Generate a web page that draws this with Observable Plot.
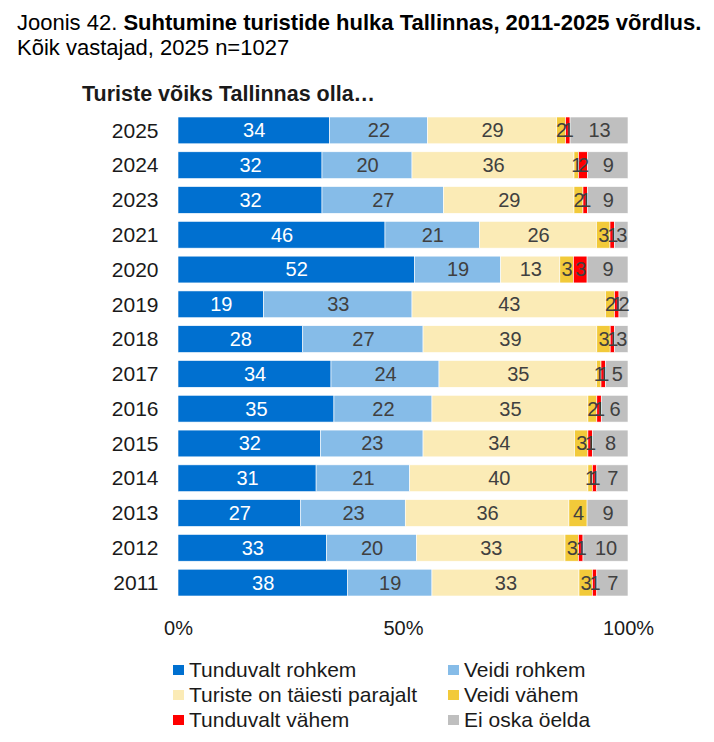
<!DOCTYPE html>
<html>
<head>
<meta charset="utf-8">
<script src="https://cdn.jsdelivr.net/npm/d3@7"></script>
<script src="https://cdn.jsdelivr.net/npm/@observablehq/plot@0.6"></script>
<style>
  body { margin: 0; background: #fff; font-family: "Liberation Sans", Arial, sans-serif; color: #000; }
  #wrap { position: relative; width: 714px; height: 742px; }
  .abs { position: absolute; white-space: nowrap; }
  #title { left: 17px; top: 9.5px; font-size: 22px; line-height: 25px; }
  #header { left: 82px; top: 82px; font-size: 21.5px; font-weight: bold; color: #1a1a1a; }
  #chart { left: 0; top: 0; }
  .leg { font-size: 21px; line-height: 25px; color: #1a1a1a; display: flex; align-items: center; }
  .sw { width: 11px; height: 10px; margin-right: 5px; display: inline-block; }
</style>
</head>
<body>
<div id="wrap">
  <div id="chart" class="abs"></div>
  <div id="title" class="abs">Joonis 42. <b>Suhtumine turistide hulka Tallinnas, 2011-2025 võrdlus.</b><br>Kõik vastajad, 2025 n=1027</div>
  <div id="header" class="abs">Turiste võiks Tallinnas olla…</div>
  <div id="legend"></div>
</div>
<script>
const years = ["2025","2024","2023","2021","2020","2019","2018","2017","2016","2015","2014","2013","2012","2011"];
const categories = ["Tunduvalt rohkem","Veidi rohkem","Turiste on täiesti parajalt","Veidi vähem","Tunduvalt vähem","Ei oska öelda"];
const colors = ["#0070D0","#86BCE8","#FBEBB6","#F2CA3A","#FF0000","#BFBFBF"];
const tunduvaltRohkem = [34,32,32,46,52,19,28,34,35,32,31,27,33,38];
const veidiRohkem     = [22,20,27,21,19,33,27,24,22,23,21,23,20,19];
const parajalt        = [29,36,29,26,13,43,39,35,35,34,40,36,33,33];
const veidiVahem      = [2,1,2,3,3,2,3,1,2,3,1,4,3,3];
const tunduvaltVahem  = [1,2,1,1,3,1,1,1,1,1,1,0,1,1];
const eiOska          = [13,9,9,3,9,2,3,5,6,8,7,9,10,7];
const xTicks = [0, 0.5, 1];

const series = [tunduvaltRohkem, veidiRohkem, parajalt, veidiVahem, tunduvaltVahem, eiOska];
const data = [];
years.forEach((y, i) => series.forEach((s, j) => data.push({year: y, cat: categories[j], value: s[i]})));

const stackOpts = {x: "value", y: "year", z: "cat", offset: "normalize", order: categories};

const chart = Plot.plot({
  width: 714,
  height: 650,
  marginLeft: 178,
  marginRight: 86,
  marginTop: 109,
  marginBottom: 46,
  style: {fontFamily: "Liberation Sans, Arial, sans-serif", fontSize: "20px", color: "#1a1a1a", background: "transparent"},
  x: {domain: [0, 1], ticks: xTicks, tickFormat: d => Math.round(d * 100) + "%", label: null, tickSize: 0, tickPadding: 16},
  y: {domain: years, label: null, tickSize: 0, tickPadding: 20, padding: 0.23, round: false},
  color: {domain: categories, range: colors},
  marks: [
    Plot.barX(data, Plot.stackX({...stackOpts, fill: "cat", stroke: "white", strokeWidth: 0.6})),
    Plot.text(data, Plot.stackX({...stackOpts, text: d => d.cat === categories[0] ? String(d.value) : "", fill: "white", fontSize: 20})),
    Plot.text(data, Plot.stackX({...stackOpts, text: d => d.cat !== categories[0] && d.value > 0 ? String(d.value) : "", fill: "#404040", fontSize: 20})),
    Plot.axisY({tickSize: 0, tickPadding: 20, fontSize: 21, label: null})
  ]
});
document.getElementById("chart").appendChild(chart);

const legend = document.getElementById("legend");
const legPos = [[173, 657], [448, 657], [173, 682], [448, 682], [173, 707], [448, 707]];
categories.forEach((c, i) => {
  const el = document.createElement("div");
  el.className = "abs leg";
  el.style.left = legPos[i][0] + "px";
  el.style.top = legPos[i][1] + "px";
  el.innerHTML = `<span class="sw" style="background:${colors[i]}"></span>${c}`;
  legend.appendChild(el);
});
</script>
</body>
</html>
